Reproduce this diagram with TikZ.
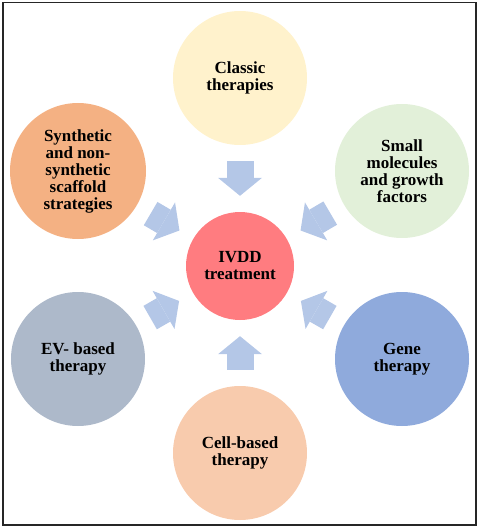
\documentclass[tikz,border=0pt]{standalone}
\usepackage{fontspec}
\setmainfont{Liberation Serif}
\usetikzlibrary{arrows.meta}
\definecolor{classicc}{HTML}{FFF2CC}
\definecolor{scaffoldc}{HTML}{F4B183}
\definecolor{smallc}{HTML}{E2F0D9}
\definecolor{ivddc}{HTML}{FF7C80}
\definecolor{evc}{HTML}{ADB9CA}
\definecolor{genec}{HTML}{8FAADC}
\definecolor{cellc}{HTML}{F8CBAD}
\definecolor{arrowc}{HTML}{B4C7E7}
\begin{document}
\begin{tikzpicture}[x=1pt,y=-1pt,
    therapy/.style={circle,minimum size=134pt,inner sep=0pt,align=center,
        font=\bfseries\fontsize{17}{17}\selectfont},
    flow/.style={line width=27pt,arrowc,
        -{Triangle[width=44pt,length=18pt,line width=0pt]},
        shorten <=16pt,shorten >=16pt}]
        \useasboundingbox (0,0) rectangle (480,529);
    %外框
        \draw [line width=1.5pt,black!85] (3,2.5) rectangle (476,525);
    %中心
        \node [therapy,fill=ivddc,minimum size=108pt] (ivdd) at (240,266) {IVDD\\treatment};
    %六个圆
        \node [therapy,fill=classicc] (classic) at (240,78) {Classic\\therapies};
        \node [therapy,fill=scaffoldc,minimum size=136pt] (scaffold) at (78,171) {Synthetic\\and non-\\synthetic\\scaffold\\strategies};
        \node [therapy,fill=smallc] (small) at (402,171) {Small\\molecules\\and growth\\factors};
        \node [therapy,fill=evc] (ev) at (78,359) {EV- based\\therapy};
        \node [therapy,fill=genec] (gene) at (402,359) {Gene\\therapy};
        \node [therapy,fill=cellc] (cell) at (240,453) {Cell-based\\therapy};
    %箭头
        \foreach \src in {classic,scaffold,small,ev,gene,cell}
            \draw [flow] (\src) -- (ivdd);
\end{tikzpicture}
\end{document}
